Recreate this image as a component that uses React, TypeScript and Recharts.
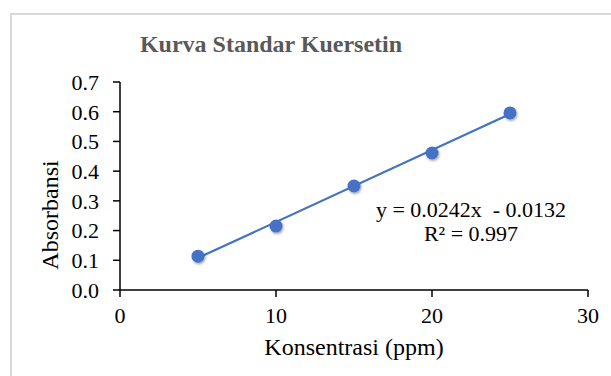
import React from 'react';
import { ScatterChart, Scatter, XAxis, YAxis } from 'recharts';

// standard curve readings (ppm vs absorbance)
const concentration = [5, 10, 15, 20, 25];
const absorbance = [0.114, 0.215, 0.35, 0.461, 0.596];

// linear trendline ends
const trendX = [5, 25];
const trendY = [0.108, 0.592];

const xTicks = [0, 10, 20, 30];
const yTicks = [0, 0.1, 0.2, 0.3, 0.4, 0.5, 0.6, 0.7];

const title = 'Kurva Standar Kuersetin';
const xLabel = 'Konsentrasi (ppm)';
const yLabel = 'Absorbansi';
const equation = 'y = 0.0242x  - 0.0132';
const rSquared = 'R² = 0.997';

const points = concentration.map((x, i) => ({ x, y: absorbance[i] }));
const trend = trendX.map((x, i) => ({ x, y: trendY[i] }));

const BLUE = '#4472C4';
const FONT = '"Liberation Serif", "Times New Roman", serif';

const Dot = (props: any) => {
  const { cx, cy } = props;
  return <circle cx={cx} cy={cy} r={6.5} fill={BLUE} filter="url(#ptShadow)" />;
};

export default function App() {
  return (
    <div
      style={{
        position: 'absolute',
        left: 0,
        top: 0,
        width: 611,
        height: 376,
        overflow: 'hidden',
        background: '#fff',
        fontFamily: FONT,
      }}
    >
      <div
        style={{
          position: 'absolute',
          left: 10,
          top: 13,
          width: 700,
          height: 420,
          border: '2px solid #d9d9d9',
        }}
      />
      <div style={{ position: 'absolute', left: 0, top: 0 }}>
        <ScatterChart
          width={611}
          height={376}
          margin={{ top: 82, right: 23, bottom: 0, left: 0 }}
          style={{ fontFamily: FONT }}
        >
          <defs>
            <filter id="ptShadow" x="-60%" y="-60%" width="220%" height="220%">
              <feDropShadow dx="1" dy="1.5" stdDeviation="1.2" floodColor="#000" floodOpacity="0.35" />
            </filter>
          </defs>
          <XAxis
            type="number"
            dataKey="x"
            domain={[0, 30]}
            ticks={xTicks}
            interval={0}
            height={86}
            tickSize={7}
            tickMargin={10}
            axisLine={{ stroke: '#000', strokeWidth: 1.5 }}
            tickLine={{ stroke: '#000', strokeWidth: 1.5 }}
            tick={{ fontSize: 22, fill: '#000', fontFamily: FONT }}
          />
          <YAxis
            type="number"
            dataKey="y"
            domain={[0, 0.7]}
            ticks={yTicks}
            interval={0}
            width={120}
            tickSize={7}
            tickMargin={14}
            tickFormatter={(v: number) => v.toFixed(1)}
            axisLine={{ stroke: '#000', strokeWidth: 1.5 }}
            tickLine={{ stroke: '#000', strokeWidth: 1.5 }}
            tick={{ fontSize: 22, fill: '#000', fontFamily: FONT }}
          />
          <Scatter
            data={trend}
            line={{ stroke: BLUE, strokeWidth: 2.2 }}
            shape={() => <g />}
            fill={BLUE}
            isAnimationActive={false}
          />
          <Scatter data={points} shape={Dot} fill={BLUE} isAnimationActive={false} />
        </ScatterChart>
      </div>
      <svg
        width={611}
        height={376}
        style={{ position: 'absolute', left: 0, top: 0, pointerEvents: 'none' }}
      >
        <text x={271} y={52} textAnchor="middle" fontSize={24} fontWeight="bold" fill="#595959" fontFamily={FONT}>
          {title}
        </text>
        <text x={354} y={355} textAnchor="middle" fontSize={24} fill="#000" fontFamily={FONT}>
          {xLabel}
        </text>
        <text
          x={58}
          y={215}
          textAnchor="middle"
          fontSize={24}
          fill="#000"
          fontFamily={FONT}
          transform="rotate(-90, 58, 215)"
        >
          {yLabel}
        </text>
        <text x={471} y={217} textAnchor="middle" fontSize={22} fill="#000" fontFamily={FONT} style={{ whiteSpace: 'pre' }}>
          {equation}
        </text>
        <text x={471} y={241} textAnchor="middle" fontSize={22} fill="#000" fontFamily={FONT}>
          {rSquared}
        </text>
      </svg>
    </div>
  );
}
